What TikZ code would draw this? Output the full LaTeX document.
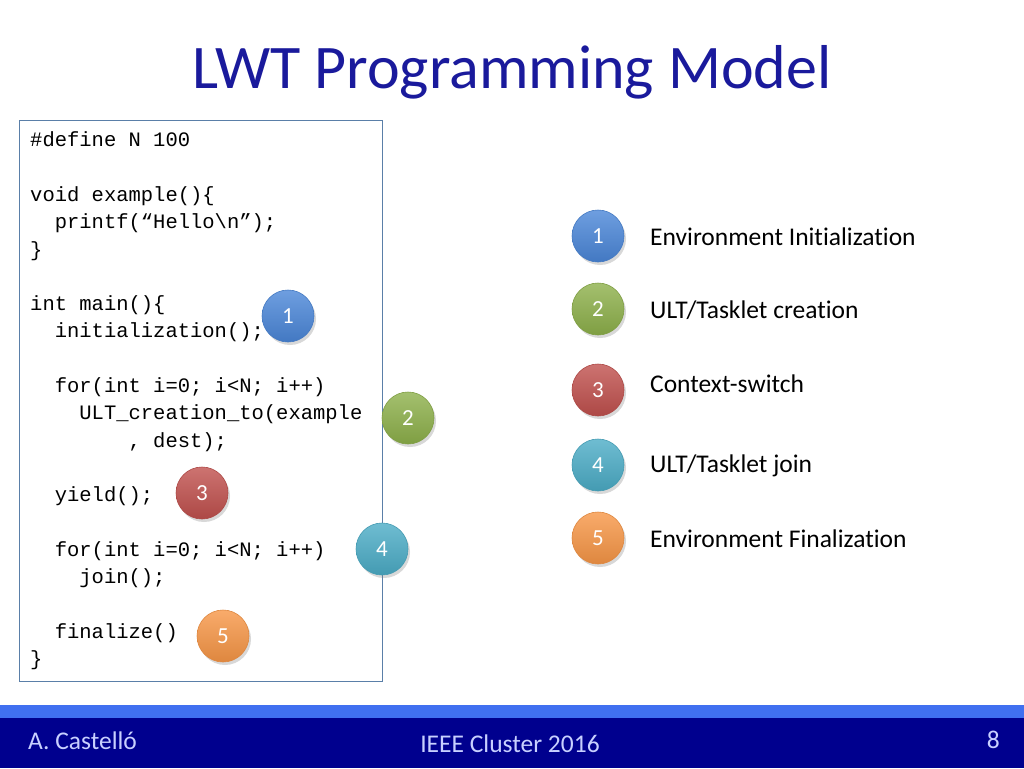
\documentclass[tikz,border=0pt]{standalone}
\usepackage{fontspec}
\setmainfont[Ligatures=CommonOff]{Carlito}
\newfontfamily\codefont{Liberation Mono}
\usetikzlibrary{shadows}
\definecolor{titleblue}{HTML}{1A1A9C}
\definecolor{bandlight}{HTML}{4070F0}
\definecolor{navy}{HTML}{00008E}
\definecolor{foot}{HTML}{C8D0FF}
\definecolor{boxline}{HTML}{5A7FA8}
\definecolor{cblue}{HTML}{4A86D8}
\definecolor{cgreen}{HTML}{8DB04A}
\definecolor{cred}{HTML}{C0504D}
\definecolor{cteal}{HTML}{4BACC6}
\definecolor{corange}{HTML}{F79646}
\tikzset{
  x=1pt,y=-1pt,
  badge/.style={circle,minimum size=52pt,inner sep=0pt,text=white,font=\fontsize{23}{23}\selectfont,
     top color=#1!80!white,bottom color=#1!90!black,draw=#1!90!black,line width=0.6pt,
     drop shadow={shadow xshift=2pt,shadow yshift=-3pt,opacity=0.3}},
  code/.style={anchor=base west,inner sep=0pt,font=\codefont\fontsize{20.5}{20.5}\selectfont},
  desc/.style={anchor=base west,inner sep=0pt,font=\fontsize{25.5}{25.5}\selectfont},
  foottext/.style={text=foot,inner sep=0pt,font=\fontsize{25.5}{25.5}\selectfont},
}
\begin{document}
\begin{tikzpicture}
\useasboundingbox (0,0) rectangle (1024,768);
\fill[white] (0,0) rectangle (1024,768);
\node[font=\fontsize{62}{62}\selectfont,text=titleblue] (title) at (512,72) {LWT Programming Model};
\draw[boxline,line width=0.8pt] (19,120) rectangle (382,681);
\node[code] (l1) at (30,146) {\#define N 100};
\node[code] (l2) at (30,201) {void example()\{};
\node[code] (l3) at (30,228) {\ \ printf(“Hello\textbackslash n”);};
\node[code] (l4) at (30,256) {\}};
\node[code] (l5) at (30,310) {int main()\{};
\node[code] (l6) at (30,337) {\ \ initialization();};
\node[code] (l7) at (30,392) {\ \ for(int i=0; i<N; i++)};
\node[code] (l8) at (30,419) {\ \ \ \ ULT\_creation\_to(example};
\node[code] (l9) at (30,447) {\ \ \ \ \ \ \ \ , dest);};
\node[code] (l10) at (30,501) {\ \ yield();};
\node[code] (l11) at (30,556) {\ \ for(int i=0; i<N; i++)};
\node[code] (l12) at (30,583) {\ \ \ \ join();};
\node[code] (l13) at (30,638) {\ \ finalize()};
\node[code] (l14) at (30,665) {\}};
\node[badge=cblue] (a1) at (288,316) {1};
\node[badge=cgreen] (a2) at (408,418) {2};
\node[badge=cred] (a3) at (202,493) {3};
\node[badge=cteal] (a4) at (382,549) {4};
\node[badge=corange] (a5) at (223,636) {5};
\node[badge=cblue] (b1) at (598,236) {1};
\node[badge=cgreen] (b2) at (598,309) {2};
\node[badge=cred] (b3) at (598,390) {3};
\node[badge=cteal] (b4) at (598,465) {4};
\node[badge=corange] (b5) at (598,538) {5};
\node[desc] (d1) at (650,245) {Environment Initialization};
\node[desc] (d2) at (650,318) {ULT/Tasklet creation};
\node[desc] (d3) at (650,392) {Context-switch};
\node[desc] (d4) at (650,472) {ULT/Tasklet join};
\node[desc] (d5) at (650,547) {Environment Finalization};
\fill[bandlight] (0,705) rectangle (1024,718);
\fill[navy] (0,718) rectangle (1024,768);
\node[foottext,anchor=base west] (au) at (28,749) {A. Castelló};
\node[foottext,anchor=base] (conf) at (510,752) {IEEE Cluster 2016};
\node[foottext,anchor=base east] (pg) at (1000,748) {8};
\end{tikzpicture}
\end{document}
